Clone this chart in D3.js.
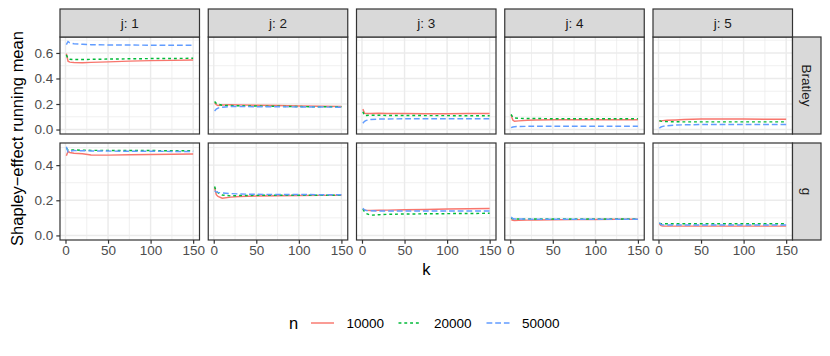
<!DOCTYPE html>
<html>
<head>
<meta charset="utf-8">
<script src="https://cdn.jsdelivr.net/npm/d3@7"></script>
<style>
  body { margin: 0; background: #fff; }
  svg { display: block; font-family: "Liberation Sans", Arial, sans-serif; }
</style>
</head>
<body>
<div id="chart"></div>
<script>
// running mean of Shapley effect, read at these k
const K_VALUES = [1, 3, 5, 10, 20, 30, 50, 75, 100, 125, 150];
const J_LABELS = ["j: 1", "j: 2", "j: 3", "j: 4", "j: 5"];
const METHODS = ["Bratley", "g"];
const N_LEVELS = ["10000", "20000", "50000"];
const X_TICKS = [0, 50, 100, 150];
const Y_TICKS_TOP = [0, 0.2, 0.4, 0.6];
const Y_TICKS_BOTTOM = [0, 0.2, 0.4];

// rows = j: 1..5
const bratley_10000 = [
  [0.595, 0.535, 0.528, 0.525, 0.523, 0.526, 0.530, 0.536, 0.540, 0.542, 0.545],
  [0.210, 0.195, 0.188, 0.192, 0.195, 0.193, 0.190, 0.188, 0.185, 0.182, 0.180],
  [0.160, 0.128, 0.125, 0.125, 0.128, 0.126, 0.125, 0.124, 0.124, 0.125, 0.125],
  [0.115, 0.075, 0.065, 0.068, 0.073, 0.075, 0.077, 0.077, 0.077, 0.076, 0.076],
  [0.065, 0.068, 0.070, 0.072, 0.075, 0.078, 0.082, 0.083, 0.082, 0.081, 0.080]
];
const bratley_20000 = [
  [0.585, 0.555, 0.550, 0.548, 0.548, 0.550, 0.552, 0.554, 0.556, 0.557, 0.558],
  [0.220, 0.205, 0.198, 0.190, 0.188, 0.186, 0.184, 0.182, 0.180, 0.178, 0.178],
  [0.140, 0.108, 0.110, 0.112, 0.112, 0.110, 0.110, 0.109, 0.109, 0.108, 0.108],
  [0.118, 0.095, 0.090, 0.088, 0.086, 0.086, 0.085, 0.084, 0.084, 0.084, 0.084],
  [0.070, 0.066, 0.063, 0.062, 0.061, 0.060, 0.060, 0.060, 0.060, 0.060, 0.060]
];
const bratley_50000 = [
  [0.665, 0.690, 0.680, 0.672, 0.668, 0.665, 0.663, 0.662, 0.661, 0.660, 0.660],
  [0.145, 0.160, 0.168, 0.175, 0.180, 0.180, 0.179, 0.178, 0.177, 0.176, 0.175],
  [0.050, 0.065, 0.072, 0.078, 0.082, 0.083, 0.084, 0.084, 0.084, 0.084, 0.084],
  [0.015, 0.020, 0.022, 0.024, 0.025, 0.025, 0.026, 0.026, 0.026, 0.026, 0.026],
  [0.010, 0.020, 0.025, 0.030, 0.035, 0.037, 0.039, 0.040, 0.040, 0.040, 0.040]
];
const g_10000 = [
  [0.453, 0.478, 0.472, 0.468, 0.465, 0.458, 0.457, 0.459, 0.461, 0.462, 0.463],
  [0.272, 0.232, 0.222, 0.212, 0.218, 0.222, 0.224, 0.226, 0.227, 0.228, 0.229],
  [0.148, 0.145, 0.143, 0.142, 0.143, 0.144, 0.146, 0.148, 0.150, 0.152, 0.153],
  [0.090, 0.086, 0.085, 0.086, 0.087, 0.088, 0.089, 0.090, 0.091, 0.092, 0.092],
  [0.065, 0.056, 0.054, 0.053, 0.053, 0.053, 0.053, 0.053, 0.053, 0.053, 0.053]
];
const g_20000 = [
  [0.497, 0.486, 0.487, 0.486, 0.485, 0.484, 0.484, 0.483, 0.483, 0.482, 0.482],
  [0.278, 0.250, 0.243, 0.230, 0.225, 0.227, 0.228, 0.229, 0.229, 0.229, 0.229],
  [0.150, 0.135, 0.125, 0.115, 0.118, 0.120, 0.122, 0.123, 0.124, 0.125, 0.126],
  [0.100, 0.094, 0.093, 0.093, 0.093, 0.093, 0.093, 0.093, 0.093, 0.093, 0.093],
  [0.070, 0.066, 0.066, 0.066, 0.066, 0.066, 0.066, 0.066, 0.066, 0.066, 0.066]
];
const g_50000 = [
  [0.505, 0.475, 0.480, 0.483, 0.482, 0.481, 0.480, 0.479, 0.479, 0.478, 0.478],
  [0.253, 0.248, 0.245, 0.242, 0.238, 0.236, 0.234, 0.233, 0.233, 0.232, 0.232],
  [0.155, 0.145, 0.142, 0.140, 0.139, 0.139, 0.139, 0.139, 0.139, 0.139, 0.139],
  [0.105, 0.096, 0.094, 0.093, 0.093, 0.092, 0.092, 0.092, 0.092, 0.092, 0.092],
  [0.072, 0.062, 0.060, 0.059, 0.059, 0.059, 0.059, 0.059, 0.059, 0.059, 0.059]
];

const SERIES = {
  Bratley: [bratley_10000, bratley_20000, bratley_50000],
  g: [g_10000, g_20000, g_50000]
};

const width = 830, height = 356;
const colors = d3.scaleOrdinal().domain(N_LEVELS).range(["#F8766D", "#00BA38", "#619CFF"]);
const dashes = d3.scaleOrdinal().domain(N_LEVELS).range(["none", "2.9,2.9", "5.8,2.9"]);

const svg = d3.select("#chart").append("svg")
  .attr("width", width)
  .attr("height", height);

// --- layout ---
const panelLeft0 = 60, panelW = 139.5, panelStep = 148.25;
const stripTop = 9, stripH = 28;
const rowTops = [37, 143], panelH = 97;
const rightStripW = 28.5;
const tickFont = "13.5px", titleFont = "16.5px";

const x = d3.scaleLinear()
  .domain([1 - 149 * 0.05, 150 + 149 * 0.05])
  .range([0, panelW]);

const yScales = [
  d3.scaleLinear().domain([-0.035, 0.725]).range([panelH, 0]),
  d3.scaleLinear().domain([-0.026, 0.526]).range([panelH, 0])
];
const yTicks = [Y_TICKS_TOP, Y_TICKS_BOTTOM];

const line = d3.line();

METHODS.forEach((method, r) => {
  const y = yScales[r];
  const top = rowTops[r];
  const [lo, hi] = y.domain();

  // minor breaks between majors (plus one step beyond)
  const yMinor = [];
  for (let v = -0.1; v <= hi; v += 0.2) {
    const m = Math.round(v * 10) / 10;
    if (m >= lo && m <= hi) yMinor.push(m);
  }
  const xMinor = [25, 75, 125];

  J_LABELS.forEach((jl, c) => {
    const left = panelLeft0 + c * panelStep;
    const g = svg.append("g").attr("transform", `translate(${left},${top})`);

    g.append("rect")
      .attr("width", panelW).attr("height", panelH)
      .attr("fill", "#fff");

    // grid
    g.selectAll(".ymin").data(yMinor).enter().append("line")
      .attr("x1", 0).attr("x2", panelW)
      .attr("y1", d => y(d)).attr("y2", d => y(d))
      .attr("stroke", "#EBEBEB").attr("stroke-width", 0.73);
    g.selectAll(".xmin").data(xMinor).enter().append("line")
      .attr("y1", 0).attr("y2", panelH)
      .attr("x1", d => x(d)).attr("x2", d => x(d))
      .attr("stroke", "#EBEBEB").attr("stroke-width", 0.73);
    g.selectAll(".ymaj").data(yTicks[r]).enter().append("line")
      .attr("x1", 0).attr("x2", panelW)
      .attr("y1", d => y(d)).attr("y2", d => y(d))
      .attr("stroke", "#EBEBEB").attr("stroke-width", 1.45);
    g.selectAll(".xmaj").data(X_TICKS).enter().append("line")
      .attr("y1", 0).attr("y2", panelH)
      .attr("x1", d => x(d)).attr("x2", d => x(d))
      .attr("stroke", "#EBEBEB").attr("stroke-width", 1.45);

    // series
    N_LEVELS.forEach((n, i) => {
      const vals = SERIES[method][i][c];
      const pts = K_VALUES.map((k, idx) => [x(k), y(vals[idx])]);
      g.append("path")
        .attr("d", line(pts))
        .attr("fill", "none")
        .attr("stroke", colors(n))
        .attr("stroke-width", 1.45)
        .attr("stroke-dasharray", dashes(n));
    });

    // border
    g.append("rect")
      .attr("width", panelW).attr("height", panelH)
      .attr("fill", "none")
      .attr("stroke", "#333333").attr("stroke-width", 1.2);

    // top strip
    if (r === 0) {
      const s = svg.append("g").attr("transform", `translate(${left},${stripTop})`);
      s.append("rect")
        .attr("width", panelW).attr("height", stripH)
        .attr("fill", "#D9D9D9")
        .attr("stroke", "#333333").attr("stroke-width", 1.2);
      s.append("text")
        .attr("x", panelW / 2).attr("y", stripH / 2)
        .attr("dy", "0.35em")
        .attr("text-anchor", "middle")
        .attr("fill", "#1A1A1A")
        .style("font-size", tickFont)
        .text(jl);
    }

    // y axis on first column
    if (c === 0) {
      const ax = g.append("g")
        .call(d3.axisLeft(y).tickValues(yTicks[r]).tickFormat(d3.format(".1f"))
          .tickSize(3.7).tickPadding(3));
      ax.select(".domain").remove();
      ax.selectAll("line").attr("stroke", "#333333").attr("stroke-width", 1.2);
      ax.selectAll("text").attr("fill", "#4D4D4D")
        .style("font-size", tickFont).style("font-family", "Liberation Sans, Arial, sans-serif");
    }

    // x axis on bottom row
    if (r === 1) {
      const ax = g.append("g")
        .attr("transform", `translate(0,${panelH})`)
        .call(d3.axisBottom(x).tickValues(X_TICKS).tickSize(3.7).tickPadding(2));
      ax.select(".domain").remove();
      ax.selectAll("line").attr("stroke", "#333333").attr("stroke-width", 1.2);
      ax.selectAll("text").attr("fill", "#4D4D4D")
        .style("font-size", tickFont).style("font-family", "Liberation Sans, Arial, sans-serif");
    }
  });

  // right strip
  const rsLeft = panelLeft0 + 4 * panelStep + panelW;
  const rs = svg.append("g").attr("transform", `translate(${rsLeft},${top})`);
  rs.append("rect")
    .attr("width", rightStripW).attr("height", panelH)
    .attr("fill", "#D9D9D9")
    .attr("stroke", "#333333").attr("stroke-width", 1.2);
  rs.append("text")
    .attr("transform", `translate(${rightStripW / 2},${panelH / 2}) rotate(90)`)
    .attr("dy", "0.35em")
    .attr("text-anchor", "middle")
    .attr("fill", "#1A1A1A")
    .style("font-size", tickFont)
    .text(method);
});

// axis titles
svg.append("text")
  .attr("transform", `translate(17,${(rowTops[0] + rowTops[1] + panelH) / 2}) rotate(-90)`)
  .attr("dy", "0.35em")
  .attr("text-anchor", "middle")
  .attr("fill", "#000")
  .style("font-size", titleFont)
  .text("Shapley\u2212effect running mean");

svg.append("text")
  .attr("x", panelLeft0 + (4 * panelStep + panelW) / 2)
  .attr("y", 269)
  .attr("dy", "0.35em")
  .attr("text-anchor", "middle")
  .attr("fill", "#000")
  .style("font-size", titleFont)
  .text("k");

// legend
const legY = 323;
const legend = svg.append("g");
legend.append("text")
  .attr("x", 289).attr("y", legY).attr("dy", "0.35em")
  .style("font-size", titleFont).attr("fill", "#000")
  .text("n");
const keyX = [311, 398.5, 486.5];
N_LEVELS.forEach((n, i) => {
  legend.append("line")
    .attr("x1", keyX[i]).attr("x2", keyX[i] + 23)
    .attr("y1", legY).attr("y2", legY)
    .attr("stroke", colors(n))
    .attr("stroke-width", 1.45)
    .attr("stroke-dasharray", dashes(n));
  legend.append("text")
    .attr("x", keyX[i] + 35.5).attr("y", legY).attr("dy", "0.35em")
    .style("font-size", tickFont).attr("fill", "#000")
    .text(n);
});
</script>
</body>
</html>
